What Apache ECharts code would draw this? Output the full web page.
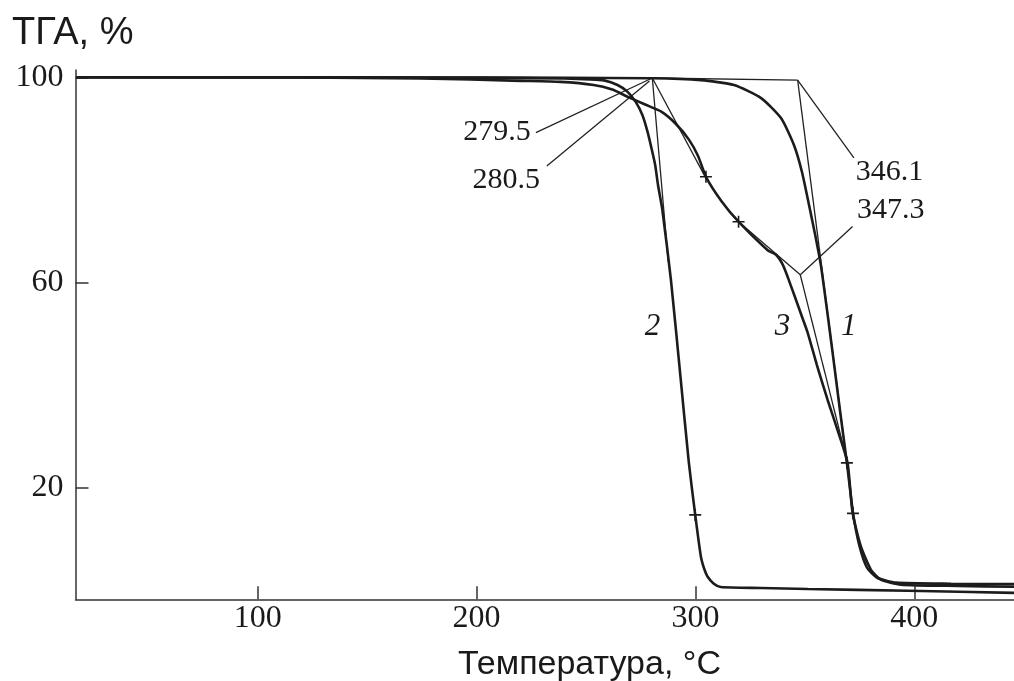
<!DOCTYPE html>
<html>
<head>
<meta charset="utf-8">
<script src="https://cdn.jsdelivr.net/npm/echarts@6/dist/echarts.min.js"></script>
<style>
  html, body { margin: 0; padding: 0; background: #ffffff; }
  #chart { width: 1014px; height: 681px; }
</style>
</head>
<body>
<div id="chart"></div>
<script>
// Axis ticks
const tempTicks = [100, 200, 300, 400];
const massTicks = [20, 60, 100];

// TGA curves: [temperature °C, mass %]
const curve1 = [
  [17, 100], [200, 99.95], [280, 99.8], [302.5, 99.45], [317.6, 98.48], [330.0, 95.95],
  [339.1, 92.05], [345.0, 86.8], [348.7, 81.5], [351.9, 75.1], [354.7, 69.3], [357.3, 63.4],
  [360.1, 54.7], [362.8, 45.9], [366.0, 35.2], [369.2, 24.85], [372.0, 15.1], [374.8, 8.9],
  [378.4, 4.4], [383.0, 2.45], [391.6, 1.5], [416.8, 1.28], [445.6, 1.2]
];
const curve2 = [
  [17, 100], [120, 100], [200, 99.9], [240, 99.75], [252, 99.6], [258.2, 99.4], [264.4, 98.5],
  [268.9, 97.2], [272.7, 95.2], [275.8, 92.6], [278.1, 89.4], [279.9, 86.2], [281.6, 82.9],
  [282.9, 79.0], [284.9, 74.1], [288.8, 60.5], [293.3, 41.0], [297.0, 24.85], [299.9, 14.7],
  [302.5, 6.55], [304.0, 4.2], [305.5, 2.7], [308.4, 1.3], [311.6, 0.64], [330, 0.45],
  [351.3, 0.25], [397, -0.08], [445.6, -0.5]
];
const curve3 = [
  [17, 100], [120, 99.95], [174.4, 99.78], [220.2, 99.3], [238.4, 99.1], [253.5, 98.5],
  [262, 97.6], [269.0, 96.2], [277, 94.7], [284.4, 93.3], [291.1, 90.9], [297.1, 87.8],
  [301.2, 84.65], [304.8, 80.6], [312, 75.8], [319.7, 71.85], [333.0, 66.3], [336.8, 65.4],
  [340.0, 63.4], [342.3, 60.9], [345.1, 57.6], [348.2, 53.9], [351.3, 50.2], [355.5, 43.9],
  [360.4, 37.1], [365.2, 30.9], [369.5, 24.85], [371.8, 15.1], [375.6, 8.55], [380.2, 4.0],
  [384.7, 2.07], [393.9, 1.1], [420, 0.85], [445.6, 0.7]
];

// Points marked with a cross on each curve
const marks1 = [[369.2, 24.85]];
const marks2 = [[299.9, 14.7]];
const marks3 = [[304.8, 80.6], [319.7, 71.85], [372.0, 15.0]];

// Onset temperatures and the tangent construction lines (°C, %)
const onsetTemps = ['279.5', '280.5', '346.1', '347.3'];
const tangentLines = [
  [[200, 100], [280.3, 99.86], [346.7, 99.45]],
  [[280.3, 99.86], [287.6, 64.0]],
  [[280.3, 99.86], [305.2, 80.0]],
  [[227.1, 89.2], [280.3, 99.86]],
  [[232.1, 82.7], [279.0, 99.3]],
  [[346.7, 99.45], [369.2, 24.85]],
  [[346.7, 99.45], [372.4, 84.3]],
  [[319.7, 71.85], [347.9, 61.5]],
  [[347.9, 61.5], [369.5, 24.85]],
  [[347.9, 61.5], [371.8, 70.9]]
];
const curveNames = ['1', '2', '3'];

// Label anchors in chart coordinates
const onsetAnchors = [
  { at: [224.8, 89.4], side: 'left' },
  { at: [229.0, 80.0], side: 'left' },
  { at: [373.3, 81.6], side: 'right' },
  { at: [373.8, 74.2], side: 'right' }
];
const nameAnchors = [[370.1, 51.3], [280.4, 51.4], [339.8, 51.4]];

const ink = '#1c1c1c';
const serif = '"Liberation Serif", "Times New Roman", serif';
const sans = '"Liberation Sans", Arial, sans-serif';
const plus = 'path://M0,5.2H12V6.8H0Z M5.2,0H6.8V12H5.2Z';

const curveSeries = [curve1, curve2, curve3].map(d => ({
  type: 'line', data: d, showSymbol: false, smooth: 0.2,
  lineStyle: { color: ink, width: 2.6 }, z: 3, silent: true
}));
const markSeries = [marks1, marks2, marks3].map(d => ({
  type: 'scatter', data: d, symbol: plus, symbolSize: 12,
  itemStyle: { color: ink, opacity: 1 }, z: 4, silent: true
}));
const tangentSeries = tangentLines.map(d => ({
  type: 'line', data: d, showSymbol: false,
  lineStyle: { color: '#222', width: 1.3 }, z: 2, silent: true
}));
const onsetLabelSeries = {
  type: 'scatter', symbolSize: 0, silent: true, z: 5,
  itemStyle: { opacity: 1 },
  data: onsetTemps.map((t, i) => ({
    value: onsetAnchors[i].at,
    label: {
      show: true, formatter: t, position: onsetAnchors[i].side, distance: 0,
      fontFamily: serif, fontSize: 30, color: '#1a1a1a', opacity: 1
    }
  }))
};
const nameLabelSeries = {
  type: 'scatter', symbolSize: 0, silent: true, z: 5,
  itemStyle: { opacity: 1 },
  data: curveNames.map((n, i) => ({
    value: nameAnchors[i],
    label: {
      show: true, formatter: n, position: 'inside',
      fontFamily: serif, fontStyle: 'italic', fontSize: 31, color: '#1a1a1a', opacity: 1
    }
  }))
};

const chart = echarts.init(document.getElementById('chart'), null, { renderer: 'canvas' });
chart.setOption({
  animation: false,
  backgroundColor: '#ffffff',
  grid: { left: 75.5, right: 0, top: 70, bottom: 81.7, containLabel: false },
  xAxis: {
    type: 'value', min: 16.75, max: 445.55,
    axisLine: { show: true, onZero: false, lineStyle: { color: '#333', width: 1.5 } },
    axisTick: { show: true, inside: true, length: 13, customValues: tempTicks,
      lineStyle: { color: '#333', width: 1.5 } },
    axisLabel: { customValues: tempTicks, margin: 3, fontFamily: serif, fontSize: 32, color: '#1a1a1a' },
    splitLine: { show: false }
  },
  yAxis: {
    type: 'value', min: -1.75, max: 101.42,
    axisLine: { show: true, onZero: false, lineStyle: { color: '#333', width: 1.5 } },
    axisTick: { show: true, inside: true, length: 13, customValues: massTicks,
      lineStyle: { color: '#333', width: 1.5 } },
    axisLabel: { customValues: massTicks, margin: 12, fontFamily: serif, fontSize: 32, color: '#1a1a1a' },
    splitLine: { show: false }
  },
  graphic: [
    { type: 'text', left: 12, top: 15,
      style: { text: 'ТГА, %', font: '38px ' + sans, fill: '#1a1a1a' } },
    { type: 'text', left: 458, top: 648,
      style: { text: 'Температура, °C', font: '34px ' + sans, fill: '#1a1a1a' } }
  ],
  series: [...tangentSeries, ...curveSeries, ...markSeries, onsetLabelSeries, nameLabelSeries]
});
</script>
</body>
</html>
